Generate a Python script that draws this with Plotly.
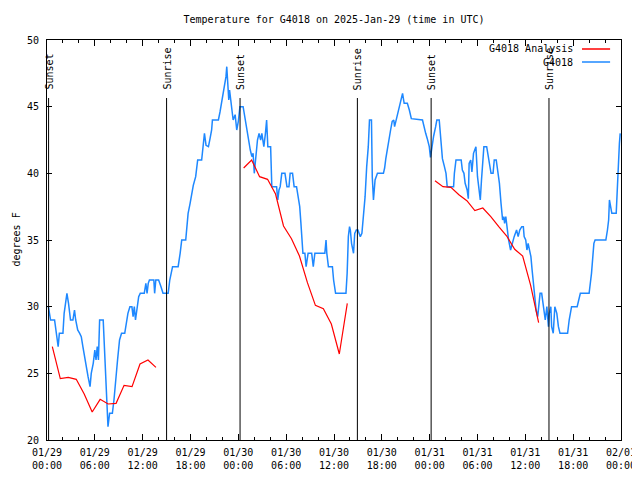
import plotly.graph_objects as go
import pandas as pd

BASE = pd.Timestamp("2025-01-29 00:00")

# G4018 observations: hours since 01/29 00:00 UTC and temperature (F)
blue_hours = [0.17,0.45,0.95,1.15,1.4,1.55,2.0,2.15,2.3,2.5,2.7,2.95,3.25,3.45,3.6,3.85,4.1,4.3,4.5,4.7,4.95,5.15,5.4,5.55,5.8,6.0,6.15,6.3,6.45,6.6,7.05,7.2,7.35,7.5,7.65,7.85,8.2,8.4,8.6,8.85,9.1,9.35,9.75,9.95,10.15,10.4,10.65,10.8,10.95,11.1,11.3,11.5,11.7,12.2,12.4,12.55,12.7,12.85,13.4,13.5,13.65,14.0,14.3,14.55,15.2,15.4,15.75,16.45,16.7,16.9,17.4,17.55,17.7,17.95,18.15,18.35,18.65,18.9,19.4,19.6,19.75,19.95,20.25,20.45,20.65,20.75,21.5,21.7,21.9,22.1,22.25,22.45,22.55,22.7,22.8,22.9,23.0,23.2,23.35,23.6,23.8,24.0,24.2,24.6,24.8,25.05,25.3,25.5,25.7,25.85,26.0,26.2,26.4,26.6,26.8,26.95,27.2,27.4,27.55,27.7,28.05,28.2,28.8,28.95,29.1,29.25,29.45,29.85,30.1,30.35,30.5,30.8,31.0,31.3,31.5,31.7,31.85,31.95,32.1,32.35,32.5,32.75,33.2,33.4,33.6,34.85,35.0,35.1,35.3,35.8,35.95,36.2,37.5,37.65,37.8,37.95,38.05,38.2,38.45,38.6,38.8,39.0,39.3,39.5,39.7,39.9,40.1,40.3,40.45,40.7,40.8,40.95,41.15,41.45,42.2,42.35,42.5,42.7,42.9,43.1,43.3,43.5,43.6,43.8,44.0,44.2,44.4,44.6,44.8,45.2,45.45,45.7,47.1,47.3,47.5,47.7,47.95,48.1,48.3,48.5,48.75,48.9,49.2,49.35,49.6,49.85,50.05,50.2,51.0,51.1,51.3,51.95,52.1,52.3,52.45,52.7,52.85,52.95,53.15,53.3,53.5,53.8,53.9,54.0,54.15,54.35,54.5,54.6,54.8,55.15,55.3,55.5,55.7,55.95,56.1,56.35,56.5,56.75,56.95,57.15,57.3,57.4,57.55,57.75,57.9,58.15,58.35,58.6,58.9,59.1,59.3,59.55,59.75,59.85,60.05,60.2,60.35,60.5,60.7,60.85,61.0,61.2,61.35,61.55,61.7,61.85,62.05,62.3,62.5,62.7,62.9,63.0,63.2,63.3,63.5,63.7,63.95,64.15,64.35,65.3,65.5,65.8,66.5,66.9,68.0,68.3,68.6,68.75,70.1,70.3,70.45,70.55,70.7,70.85,71.4,71.55,71.7,71.8,71.9]
blue_temps = [30.0,29.0,29.0,28.0,27.0,28.0,28.0,29.5,30.25,31.0,30.25,29.0,29.0,29.75,29.0,28.25,28.0,27.75,27.0,26.25,25.5,24.75,24.0,25.0,25.75,26.75,26.0,27.0,26.0,29.0,29.0,27.0,24.0,22.0,21.0,22.0,22.0,23.0,24.5,26.0,27.5,28.0,28.0,28.75,29.5,30.0,30.0,29.25,30.0,29.0,30.0,30.75,31.0,31.0,31.75,31.0,31.75,32.0,32.0,31.0,32.0,32.0,31.5,31.0,31.0,32.0,33.0,33.0,34.0,35.0,35.0,36.25,37.0,37.75,38.5,39.1,39.75,41.0,41.0,42.0,43.0,42.1,42.0,42.6,43.25,44.0,44.0,44.6,45.25,46.0,46.6,47.25,48.0,46.75,45.5,46.25,45.75,44.75,44.0,44.4,43.25,43.9,45.0,45.0,44.25,43.5,42.5,41.75,41.25,41.5,40.0,41.5,42.5,43.0,42.5,43.0,42.0,43.0,44.0,42.0,42.0,39.0,39.0,38.0,38.75,39.0,40.0,40.0,39.0,39.0,40.0,40.0,39.0,39.0,38.25,37.5,36.25,35.25,34.0,34.0,33.0,34.0,34.0,33.0,34.0,34.0,35.0,34.0,33.0,33.0,32.0,31.0,31.0,32.5,35.25,36.0,35.75,34.75,34.0,35.5,35.75,35.75,35.25,35.5,36.75,38.25,40.5,42.0,44.0,44.0,39.75,38.0,39.5,40.0,40.0,40.4,41.1,41.9,42.6,43.25,43.9,44.0,43.5,44.0,44.5,45.0,45.5,46.0,45.25,45.25,44.75,44.1,44.0,43.4,43.0,42.6,42.0,41.2,42.25,42.8,43.5,44.0,44.0,42.9,41.1,40.5,40.0,39.0,39.0,40.0,41.0,41.0,40.25,40.0,39.25,38.75,38.1,40.75,41.0,40.1,41.5,42.0,40.75,39.75,39.0,38.0,39.5,40.5,42.0,42.0,41.4,40.75,40.0,40.0,41.0,41.0,40.25,39.25,37.75,36.5,36.75,36.25,36.75,35.5,35.0,34.25,34.75,35.25,35.75,35.25,35.75,36.0,36.0,35.25,35.0,34.25,34.75,34.25,33.75,32.75,31.75,30.75,29.75,29.25,30.25,31.0,31.0,30.0,29.0,30.0,28.5,29.5,30.0,28.5,28.0,30.0,29.5,28.5,28.0,28.0,29.0,30.0,30.0,31.0,31.0,32.5,34.75,35.0,35.0,35.75,36.5,38.0,37.4,37.0,37.0,39.25,40.75,42.25,43.0]

# G4018 Analysis: hourly values at HH:40 for three 14-hour windows
red_starts = ["2025-01-29 00:40", "2025-01-30 00:40", "2025-01-31 00:40"]
red_seg1 = [27.0,24.6,24.7,24.55,23.45,22.1,23.05,22.7,22.75,24.1,24.0,25.7,26.0,25.45]
red_seg2 = [40.4,41.0,39.75,39.55,38.45,36.05,35.1,33.8,31.8,30.1,29.85,28.7,26.45,30.25]
red_seg3 = [39.45,39.0,38.95,38.4,37.95,37.2,37.4,36.75,36.0,35.3,34.3,33.8,31.6,28.8]

# Sun events
sun_times = ["2025-01-29 00:12", "2025-01-29 15:00", "2025-01-30 00:13",
             "2025-01-30 14:56", "2025-01-31 00:11", "2025-01-31 14:58"]
sun_labels = ["Sunset", "Sunrise", "Sunset", "Sunrise", "Sunset", "Sunrise"]

x_tick_hours = [0, 6, 12, 18, 24, 30, 36, 42, 48, 54, 60, 66, 72]
x_tick_text = ["01/29<br>00:00", "01/29<br>06:00", "01/29<br>12:00", "01/29<br>18:00",
               "01/30<br>00:00", "01/30<br>06:00", "01/30<br>12:00", "01/30<br>18:00",
               "01/31<br>00:00", "01/31<br>06:00", "01/31<br>12:00", "01/31<br>18:00",
               "02/01<br>00:00"]

FONT = "DejaVu Sans Mono"
BLUE = "#1e88ff"
RED = "#ff0000"

# the page body adds an 8px offset; margins compensate so the plot box sits at 47..621 x 40..440
OFF = 8

blue_x = [BASE + pd.Timedelta(hours=h) for h in blue_hours]

red_x, red_y = [], []
for start, seg in zip(red_starts, [red_seg1, red_seg2, red_seg3]):
    times = pd.date_range(start, periods=len(seg), freq="h")
    red_x.extend(list(times))
    red_y.extend(seg)
    red_x.append(None)
    red_y.append(None)

fig = go.Figure()
fig.add_trace(go.Scatter(x=blue_x, y=blue_temps, mode="lines", name="G4018",
                         line=dict(color=BLUE, width=1.5), showlegend=False))
fig.add_trace(go.Scatter(x=red_x, y=red_y, mode="lines", name="G4018 Analysis",
                         line=dict(color=RED, width=1.2), connectgaps=False,
                         showlegend=False))

shapes = []
annotations = []
for t, lab in zip(sun_times, sun_labels):
    shapes.append(dict(type="line", xref="x", yref="paper", x0=t, x1=t, y0=0, y1=0.855,
                       line=dict(color="black", width=1)))
    annotations.append(dict(x=t, y=0.87, xref="x", yref="paper", text=lab,
                            textangle=-90, showarrow=False, xanchor="center",
                            yanchor="bottom", font=dict(family=FONT, size=10, color="black")))

# legend (text left of sample line, as in the original)
leg = [("G4018 Analysis", RED, 0.9775), ("G4018", BLUE, 0.945)]
for text, col, yy in leg:
    annotations.append(dict(x=0.9199, y=yy, xref="paper", yref="paper", text=text,
                            showarrow=False, xanchor="right", yanchor="middle",
                            font=dict(family=FONT, size=10, color="black")))
    shapes.append(dict(type="line", xref="paper", yref="paper", x0=0.932, x1=0.981,
                       y0=yy, y1=yy, line=dict(color=col, width=1.5)))

annotations.append(dict(x=-(47 - OFF) / 574, y=0.5, xref="paper", yref="paper",
                        text="degrees F", textangle=-90, showarrow=False,
                        xanchor="left", yanchor="middle",
                        font=dict(family=FONT, size=10, color="black")))

fig.update_layout(
    width=640, height=480,
    margin=dict(l=47 - OFF, r=19 + OFF, t=40 - OFF, b=40 + OFF, pad=0, autoexpand=False),
    paper_bgcolor="white", plot_bgcolor="white",
    title=dict(text="Temperature for G4018 on 2025-Jan-29 (time in UTC)",
               x=((47 + 621) / 2 - OFF) / 640, xanchor="center",
               y=1 - (19 - OFF) / 480, yanchor="middle",
               font=dict(family=FONT, size=10, color="black"), automargin=False),
    font=dict(family=FONT, size=10, color="black"),
    shapes=shapes, annotations=annotations,
    showlegend=False,
)
fig.update_xaxes(
    type="date", range=[BASE, BASE + pd.Timedelta(hours=72)], automargin=False,
    tickvals=[BASE + pd.Timedelta(hours=h) for h in x_tick_hours], ticktext=x_tick_text,
    ticks="inside", ticklen=6, tickcolor="black", tickwidth=1, ticklabelstandoff=3,
    minor=dict(ticks="inside", ticklen=3, tickcolor="black", dtick=2 * 3600 * 1000,
               tick0=BASE, showgrid=False),
    showline=True, linecolor="black", linewidth=1, mirror="ticks",
    showgrid=False, zeroline=False, tickfont=dict(family=FONT, size=10, color="black"),
)
fig.update_yaxes(
    range=[20, 50], dtick=5, tick0=20, automargin=False,
    ticks="inside", ticklen=5, tickcolor="black", tickwidth=1, ticklabelstandoff=5,
    showline=True, linecolor="black", linewidth=1, mirror="ticks",
    showgrid=False, zeroline=False, tickfont=dict(family=FONT, size=10, color="black"),
)

fig.write_html("out.html")
